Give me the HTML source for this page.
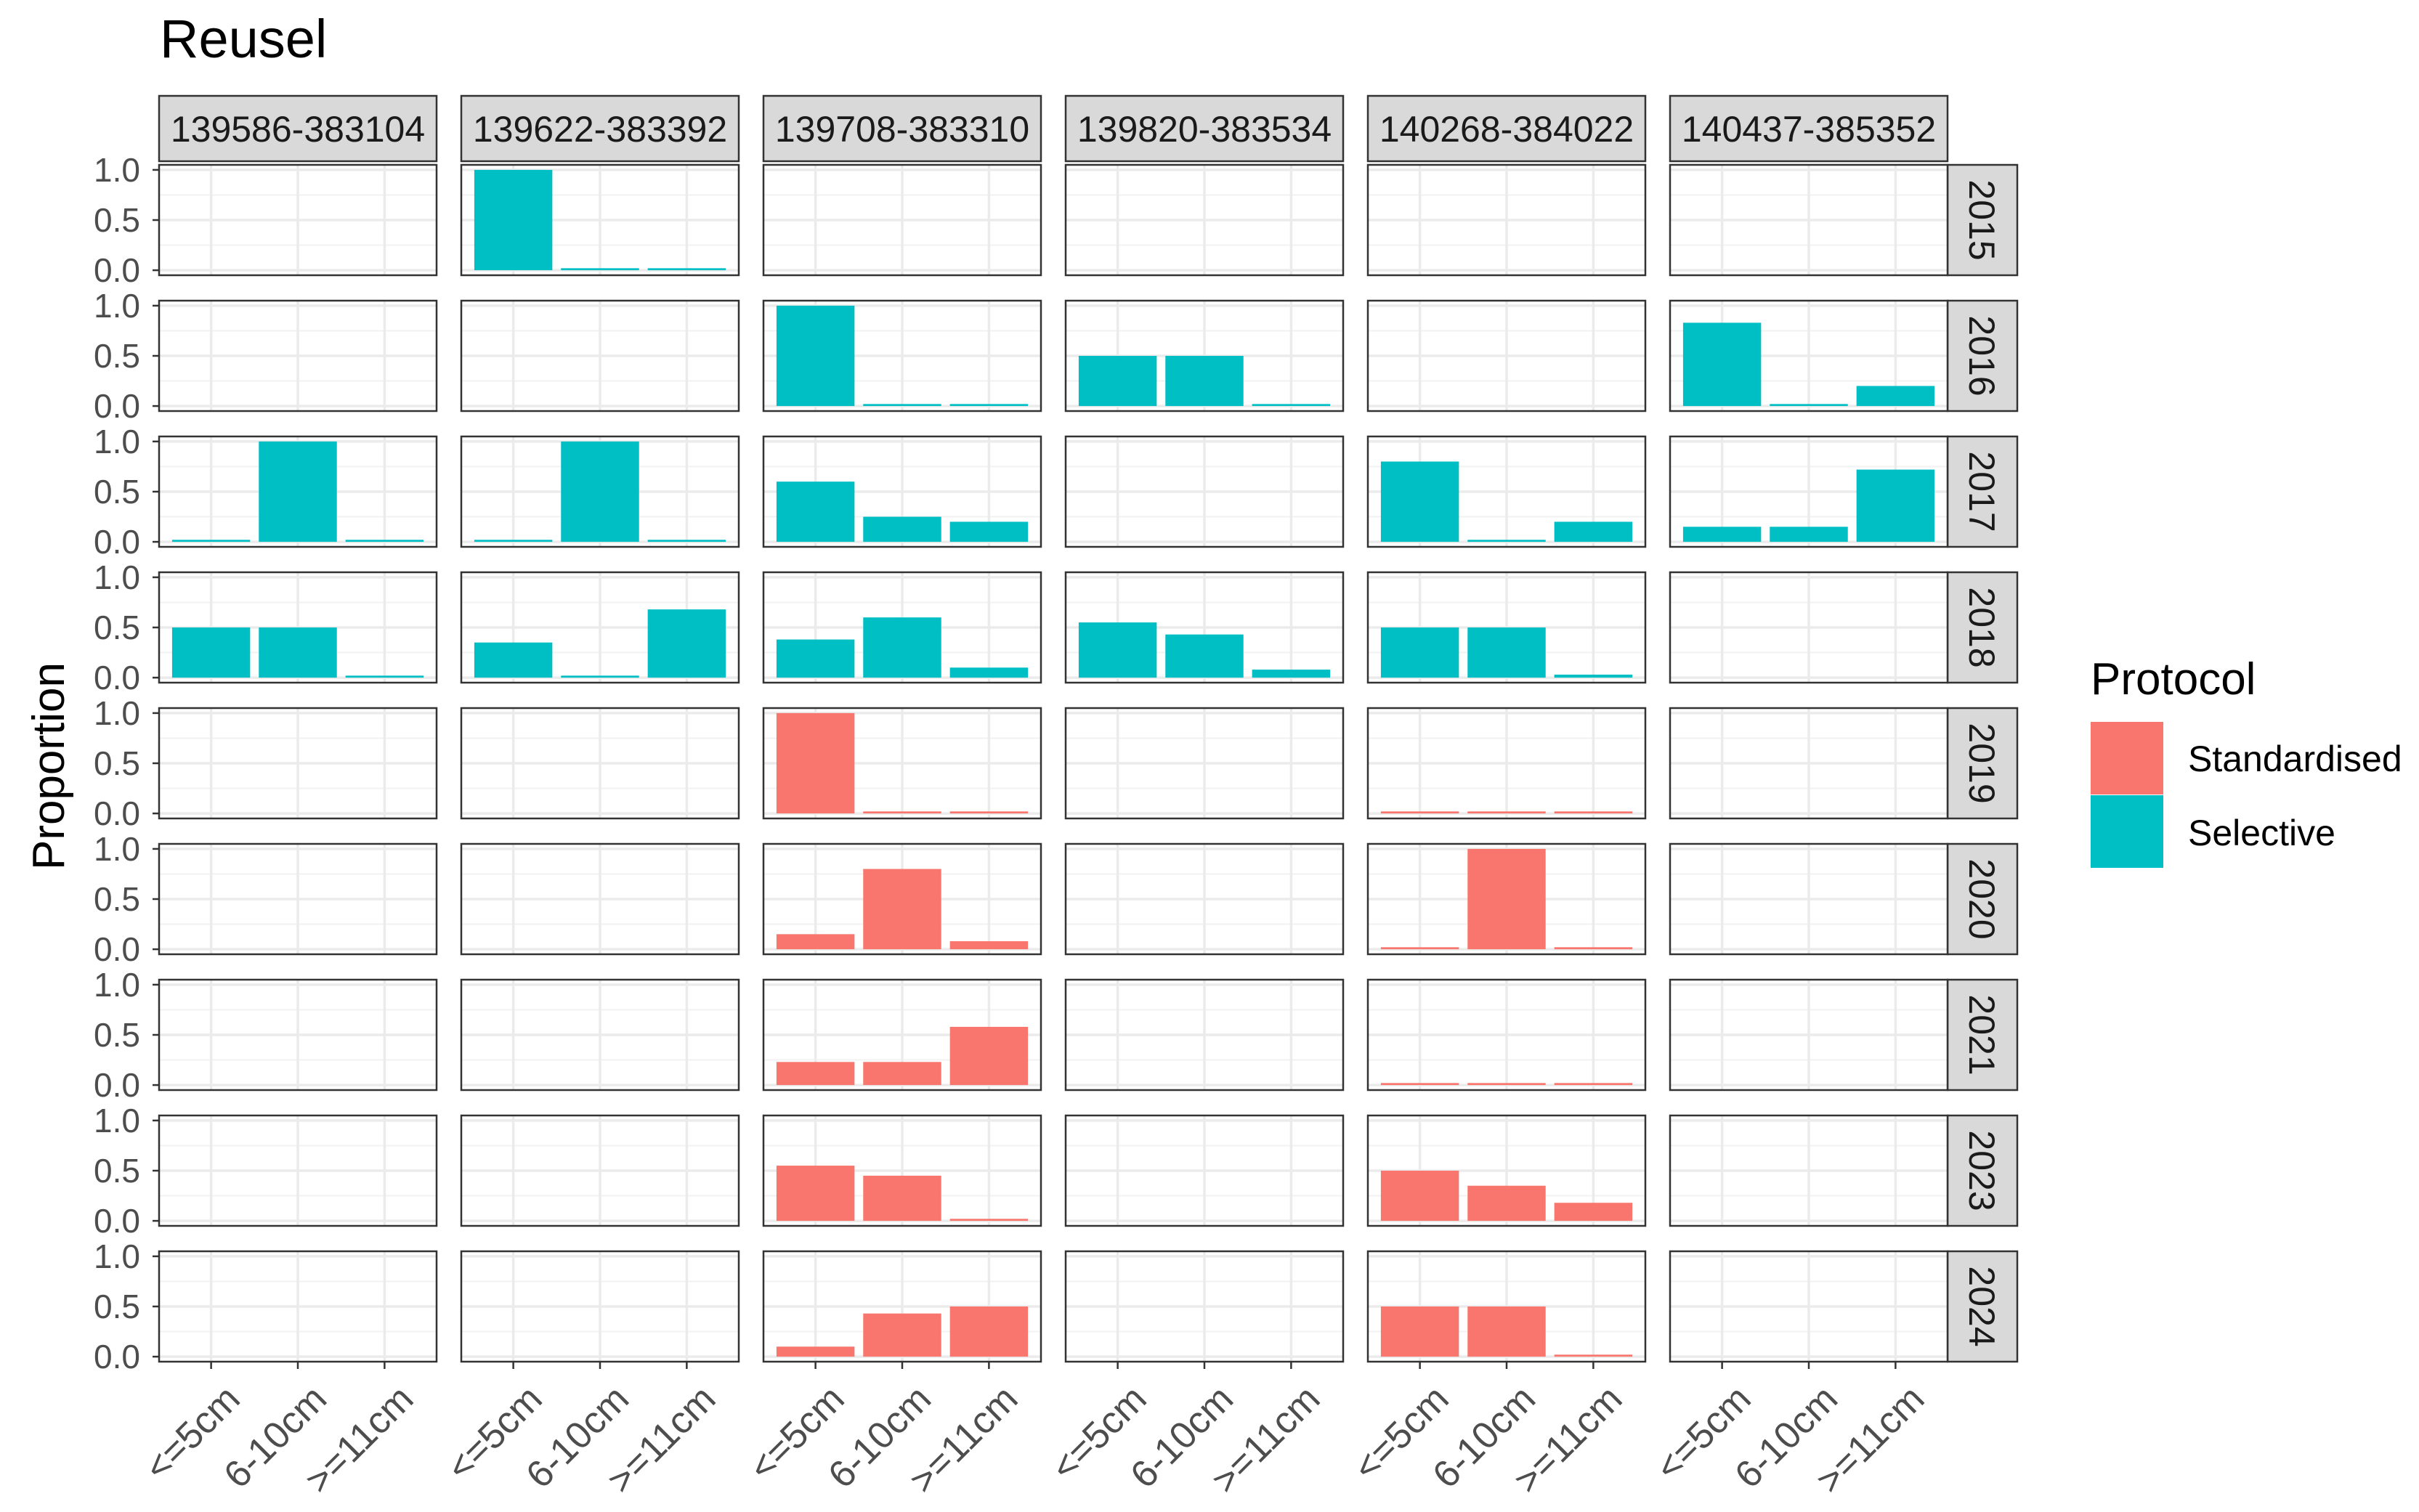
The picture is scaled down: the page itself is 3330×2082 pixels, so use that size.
<!DOCTYPE html>
<html><head><meta charset="utf-8"><style>
html,body{margin:0;padding:0;background:#fff;}
svg{display:block;font-family:"Liberation Sans",Arial,sans-serif;}
</style></head><body>
<svg id="chart" width="3330" height="2082" viewBox="0 0 3330 2082" xmlns="http://www.w3.org/2000/svg">
<text x="220" y="79" font-size="74" fill="#000">Reusel</text>
<text transform="translate(88,1055) rotate(-90)" text-anchor="middle" font-size="62" fill="#000">Proportion</text>
<g id="panels"></g>
<g>
<text x="2878" y="956" font-size="62" fill="#000">Protocol</text>
<rect x="2878" y="994" width="100" height="100" fill="#F8766D"/>
<rect x="2878" y="1095" width="100" height="100" fill="#00BFC4"/>
<text x="3012" y="1062" font-size="50" fill="#000">Standardised</text>
<text x="3012" y="1164" font-size="50" fill="#000">Selective</text>
</g>
</svg>
<script>
const sites = ["139586-383104","139622-383392","139708-383310","139820-383534","140268-384022","140437-385352"];
const years = ["2015","2016","2017","2018","2019","2020","2021","2023","2024"];
const categories = ["<=5cm","6-10cm",">=11cm"];
const yTicks = [0, 0.5, 1.0];
const yTickLabels = ["0.0","0.5","1.0"];
const protocolByYear = ["Selective","Selective","Selective","Selective","Standardised","Standardised","Standardised","Standardised","Standardised"];
const values2015 = [null,[1.0,0.02,0.02],null,null,null,null];
const values2016 = [null,null,[1.0,0.02,0.02],[0.5,0.5,0.02],null,[0.83,0.02,0.2]];
const values2017 = [[0.02,1.0,0.02],[0.02,1.0,0.02],[0.6,0.25,0.2],null,[0.8,0.02,0.2],[0.15,0.15,0.72]];
const values2018 = [[0.5,0.5,0.02],[0.35,0.02,0.68],[0.38,0.6,0.1],[0.55,0.43,0.08],[0.5,0.5,0.03],null];
const values2019 = [null,null,[1.0,0.02,0.02],null,[0.02,0.02,0.02],null];
const values2020 = [null,null,[0.15,0.8,0.08],null,[0.02,1.0,0.02],null];
const values2021 = [null,null,[0.23,0.23,0.58],null,[0.02,0.02,0.02],null];
const values2023 = [null,null,[0.55,0.45,0.02],null,[0.5,0.35,0.18],null];
const values2024 = [null,null,[0.1,0.43,0.5],null,[0.5,0.5,0.02],null];
const allValues = [values2015,values2016,values2017,values2018,values2019,values2020,values2021,values2023,values2024];
const colors = {Selective:"#00BFC4", Standardised:"#F8766D"};

const NS = "http://www.w3.org/2000/svg";
const root = document.getElementById("panels");
const PX0 = 219, PW = 382, PSTEP = 416, PY0 = 227, PH = 152, PSTEP_Y = 187;
function mk(tag, attrs, parent){const e=document.createElementNS(NS,tag);for(const k in attrs)e.setAttribute(k,attrs[k]);(parent||root).appendChild(e);return e;}
function yScale(v, top){return top + PH - (v + 0.05) / 1.1 * PH;}
function xScale(i, left){return left + (i + 1 - 0.4) / 3.2 * PW;}

sites.forEach((s, c) => {
  const left = PX0 + c * PSTEP;
  const r = mk("rect",{x:left,y:132,width:PW,height:90,fill:"#D9D9D9",stroke:"#333",["stroke-width"]:2.5});
  
  
  const t = mk("text",{x:left+PW/2,y:195,"text-anchor":"middle","font-size":50,fill:"#1A1A1A"});
  t.textContent = s;
  
  
});

years.forEach((yr, r) => {
  const top = PY0 + r * PSTEP_Y;
  const sx = PX0 + 5 * PSTEP + PW;
  const sr = mk("rect",{x:sx,y:top,width:96,height:PH,fill:"#D9D9D9",stroke:"#333",["stroke-width"]:2.5});
  
  
  const st = mk("text",{transform:`translate(${sx+30},${top+PH/2}) rotate(90)`,"text-anchor":"middle","font-size":50,fill:"#1A1A1A"});
  st.textContent = yr;
  
  
  yTicks.forEach((v, k) => {
    const y = yScale(v, top);
    const tl = mk("text",{x:193,y:y+16,"text-anchor":"end","font-size":46,fill:"#4D4D4D"});
    tl.textContent = yTickLabels[k];
    
    
    const tk = mk("line",{x1:PX0-9,x2:PX0,y1:y,y2:y,stroke:"#333","stroke-width":2.5});
    
    
  });
  sites.forEach((s, c) => {
    const left = PX0 + c * PSTEP;
    const g = mk("g",{});
    
    
    mk("rect",{x:left,y:top,width:PW,height:PH,fill:"#fff"},g);
    [0.25,0.75].forEach(v=>mk("line",{x1:left,x2:left+PW,y1:yScale(v,top),y2:yScale(v,top),stroke:"#F2F2F2","stroke-width":2},g));
    yTicks.forEach(v=>mk("line",{x1:left,x2:left+PW,y1:yScale(v,top),y2:yScale(v,top),stroke:"#EBEBEB","stroke-width":3.5},g));
    categories.forEach((cat,i)=>mk("line",{x1:xScale(i,left),x2:xScale(i,left),y1:top,y2:top+PH,stroke:"#EBEBEB","stroke-width":3.5},g));
    const vals = allValues[r][c];
    if (vals) {
      vals.forEach((v, i) => {
        const cx = xScale(i, left), bw = 0.9 / 3.2 * PW;
        const y1 = yScale(v, top), y0 = yScale(0, top);
        const b = mk("rect",{x:cx-bw/2,y:y1,width:bw,height:y0-y1,fill:colors[protocolByYear[r]]},g);
        
        
      });
    }
    mk("rect",{x:left,y:top,width:PW,height:PH,fill:"none",stroke:"#333","stroke-width":2.5},g);
  });
});

const bottom = PY0 + 8 * PSTEP_Y + PH;
sites.forEach((s, c) => {
  const left = PX0 + c * PSTEP;
  categories.forEach((cat, i) => {
    const x = xScale(i, left);
    const tk = mk("line",{x1:x,x2:x,y1:bottom,y2:bottom+10,stroke:"#333","stroke-width":2.5});
    
    
    const t = mk("text",{transform:`translate(${x+16},${bottom+28}) rotate(-45)`,"text-anchor":"end","font-size":52,fill:"#4D4D4D",dy:"0.72em"});
    t.textContent = cat;
    
    
  });
});
</script>
</body></html>
